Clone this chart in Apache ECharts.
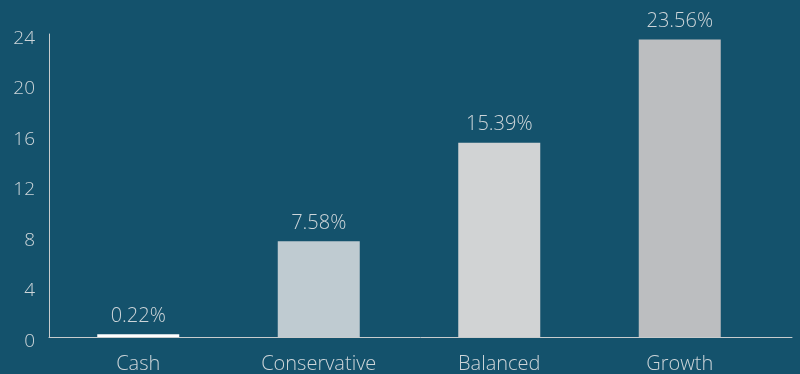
<!DOCTYPE html>
<html>
<head>
<meta charset="utf-8">
<script src="https://cdn.jsdelivr.net/npm/echarts@6/dist/echarts.min.js"></script>
<style>
  html, body { margin: 0; padding: 0; background: #14526c; }
  #chart { width: 800px; height: 374px; }
</style>
</head>
<body>
<div id="chart"></div>
<script>
  // portfolio returns, %
  var categories = ['Cash', 'Conservative', 'Balanced', 'Growth']
  var returns = [0.22, 7.58, 15.39, 23.56]
  var barColors = ['#ffffff', '#bfcbd1', '#d1d3d4', '#bcbec0']
  var yTicks = { min: 0, max: 24, interval: 4 }

  var textColor = '#cdd5d9'
  var lineColor = '#c8cccd'
  var font = '"Open Sans", sans-serif'

  var chart = echarts.init(document.getElementById('chart'))
  chart.setOption({
    backgroundColor: '#14526c',
    animation: false,
    grid: [
      // axis frame
      { left: 49, right: 8, top: 34, bottom: 37 },
      // bars
      { left: 48, right: 30, top: 34, bottom: 37 }
    ],
    xAxis: [
      {
        gridIndex: 0,
        type: 'category',
        data: categories,
        axisLine: { lineStyle: { color: lineColor, width: 1 } },
        axisTick: { show: false },
        axisLabel: { show: false }
      },
      {
        gridIndex: 1,
        type: 'category',
        data: categories,
        axisLine: { show: false },
        axisTick: { show: false },
        axisLabel: {
          color: textColor,
          fontFamily: font,
          fontWeight: 300,
          fontSize: 20,
          margin: 17
        }
      }
    ],
    yAxis: [
      {
        gridIndex: 0,
        type: 'value',
        min: yTicks.min,
        max: yTicks.max,
        interval: yTicks.interval,
        axisLine: { show: true, lineStyle: { color: lineColor, width: 1 } },
        axisTick: { show: false },
        splitLine: { show: false },
        axisLabel: {
          color: textColor,
          fontFamily: font,
          fontWeight: 300,
          fontSize: 19,
          margin: 14,
          verticalAlign: 'top',
          lineHeight: 9
        }
      },
      {
        gridIndex: 1,
        type: 'value',
        min: yTicks.min,
        max: yTicks.max,
        show: false
      }
    ],
    series: [
      {
        type: 'bar',
        xAxisIndex: 1,
        yAxisIndex: 1,
        barWidth: 82,
        data: returns.map(function (v, i) {
          return { value: v, itemStyle: { color: barColors[i] } }
        }),
        label: {
          show: true,
          position: 'top',
          distance: 8,
          color: textColor,
          fontFamily: font,
          fontWeight: 300,
          fontSize: 20,
          formatter: function (p) { return p.value.toFixed(2) + '%' }
        }
      }
    ]
  })
</script>
</body>
</html>
